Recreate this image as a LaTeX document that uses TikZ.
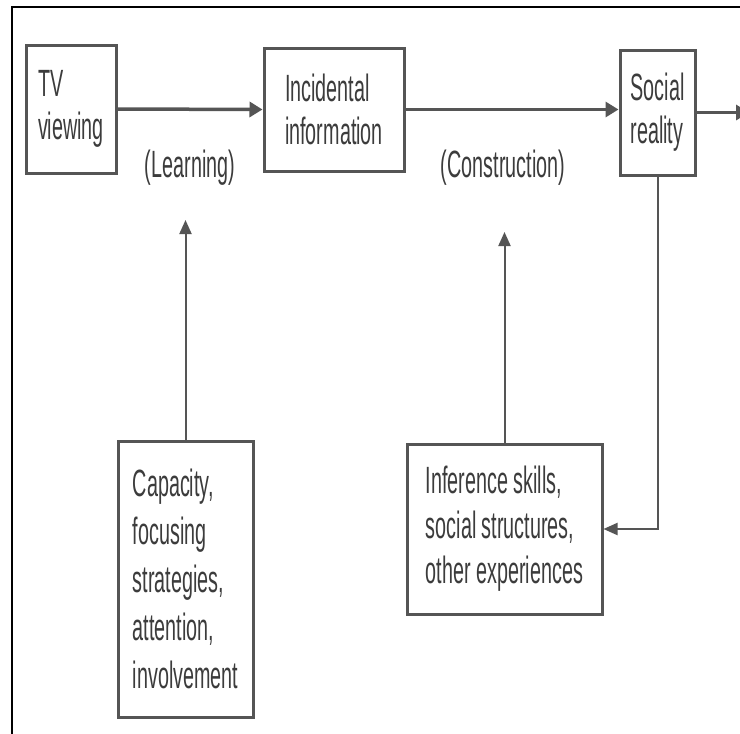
\documentclass[tikz,border=0pt]{standalone}
\usepackage{fontspec}
\setmainfont{Liberation Sans}[FakeStretch=0.52]
\usetikzlibrary{arrows.meta}
\definecolor{ink}{HTML}{3C3C3C}
\definecolor{edge}{HTML}{555555}
\begin{document}
\begin{tikzpicture}[x=1pt,y=-1pt,
  box/.style={draw=edge, line width=3pt, text=ink, align=left, inner sep=0pt},
  topfont/.style={font=\fontsize{38}{43}\selectfont},
  flow/.style={draw=edge, line width=3.5pt, -{Triangle[length=13pt,width=15pt]}},
  feed/.style={draw=edge, line width=2pt, -{Triangle[length=14pt,width=12pt]}},
  lbl/.style={text=ink, font=\fontsize{38}{43}\selectfont, inner sep=0pt}]
\useasboundingbox (0,0) rectangle (740,734);
\fill[white] (0,0) rectangle (740,734);
\draw[black, line width=2pt] (12,734) -- (12,7) -- (740,7);

\node[box, topfont, minimum width=90pt, minimum height=128pt] (tv) at (71,109) {TV\\viewing};
\node[box, topfont, minimum width=140pt, minimum height=123pt] (inc) at (334,109.5) {Incidental\\information};
\node[box, topfont, minimum width=75pt, minimum height=125pt] (soc) at (657.5,112.5) {Social\\reality};
\node[box, font=\fontsize{38}{48}\selectfont, minimum width=135pt, minimum height=276pt] (cap) at (185.5,579) {Capacity,\\focusing\\strategies,\\attention,\\involvement};
\node[box, font=\fontsize{38}{45}\selectfont, minimum width=195pt, minimum height=170pt] (inf) at (504.5,529) {Inference skills,\\social structures,\\other experiences};

\node[lbl] (learn) at (190,168) {(Learning)};
\node[lbl] (constr) at (503,168) {(Construction)};

\coordinate (out) at (749,112.5);
\coordinate (learnTip) at (185.5,220);
\coordinate (constrTip) at (504.5,232);

\draw[flow] (tv.east) -- (inc.west);
\draw[flow] (inc.east) -- (inc.east -| soc.west);
\draw[flow] (soc.east) -- (out);
\draw[feed] (cap.north) -- (learnTip);
\draw[feed] (inf.north) -- (constrTip);
\draw[feed] (soc.south) |- (inf.east);
\end{tikzpicture}
\end{document}
